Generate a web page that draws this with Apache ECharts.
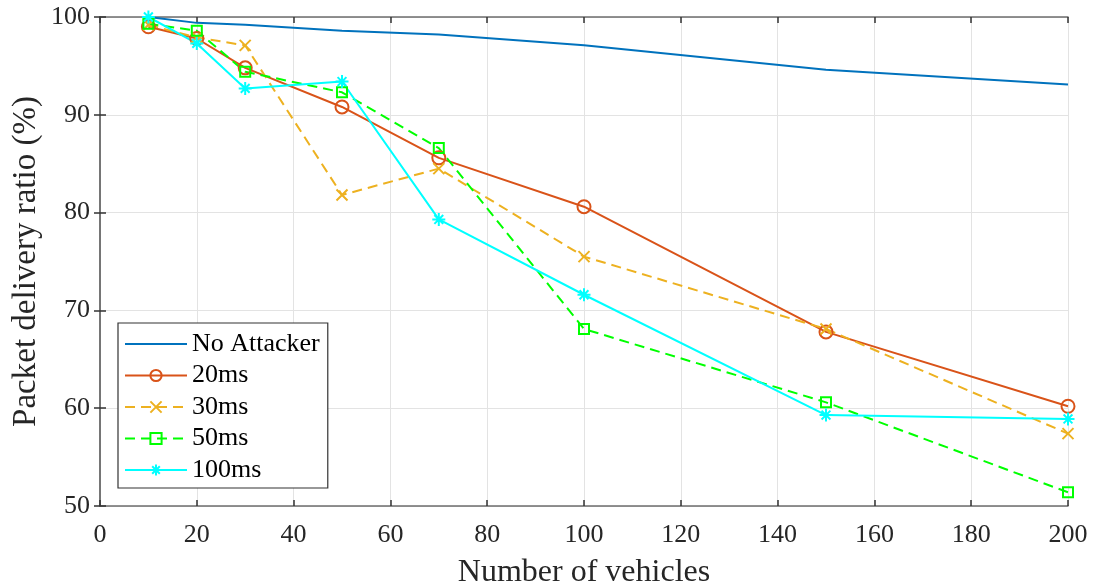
<!DOCTYPE html>
<html><head><meta charset="utf-8">
<script src="https://cdn.jsdelivr.net/npm/echarts@6/dist/echarts.min.js"></script>
<style>html,body{margin:0;padding:0;background:#fff}#c{width:1094px;height:588px}</style>
</head><body><div id="c"></div>
<script>
const vehicles = [10, 20, 30, 50, 70, 100, 150, 200];
const noAttacker = [100, 99.4, 99.2, 98.6, 98.2, 97.1, 94.6, 93.1];
const ms20 = [99.0, 97.8, 94.8, 90.8, 85.6, 80.6, 67.8, 60.2];
const ms30 = [99.2, 97.9, 97.1, 81.8, 84.5, 75.5, 68.1, 57.4];
const ms50 = [99.3, 98.6, 94.4, 92.3, 86.6, 68.1, 60.6, 51.4];
const ms100 = [100, 97.3, 92.7, 93.4, 79.3, 71.6, 59.3, 58.9];
const names = ['No Attacker', '20ms', '30ms', '50ms', '100ms'];

const font = 'Liberation Serif, Times New Roman, serif';
const pairs = arr => vehicles.map((v, i) => [v, arr[i]]);
const cross = 'path://M0,0L10,10M10,0L0,10';
const star = 'path://M5,0L5,10M0,5L10,5M1.6,1.6L8.4,8.4M8.4,1.6L1.6,8.4';

function mk(name, data, color, symbol, size, dashed) {
  return {
    name, type: 'line', data: pairs(data),
    symbol, symbolSize: size, showSymbol: symbol !== 'none',
    lineStyle: { color, width: 2, type: dashed ? [10, 6] : 'solid' },
    itemStyle: { color: 'rgba(0,0,0,0)', borderColor: color, borderWidth: 2 },
    emphasis: { disabled: true }, animation: false, z: 3
  };
}

const axisCommon = {
  axisLine: { show: true, lineStyle: { color: '#6e6e6e', width: 1.5 } },
  axisTick: { show: true, inside: true, length: 6, lineStyle: { color: '#333', width: 1.5 } },
};

const legendData = names.map(n => n === 'No Attacker'
  ? { name: n, itemStyle: { opacity: 0, borderWidth: 0 } }
  : { name: n });

const chart = echarts.init(document.getElementById('c'));
chart.setOption({
  animation: false,
  grid: { left: 100, right: 26, top: 17, bottom: 82, containLabel: false, outerBoundsMode: 'none' },
  legend: {
    data: legendData, orient: 'vertical', left: 118, top: 323,
    backgroundColor: '#fff', borderColor: '#333', borderWidth: 1.2,
    padding: [8, 8, 5, 6], itemWidth: 62, itemHeight: 14, itemGap: 5.5,
    textStyle: { fontFamily: font, fontSize: 26, lineHeight: 26, color: '#000' },
    selectedMode: false
  },
  xAxis: [
    Object.assign({ type: 'value', min: 0, max: 200, interval: 20,
      axisLabel: { fontFamily: font, fontSize: 26, color: '#262626', margin: 16 },
      splitLine: { show: true, lineStyle: { color: '#e3e3e3', width: 1 } },
      name: 'Number of vehicles', nameLocation: 'middle', nameGap: 51,
      nameTextStyle: { fontFamily: font, fontSize: 32, color: '#262626' } }, axisCommon),
    Object.assign({ type: 'value', min: 0, max: 200, interval: 20, position: 'top',
      axisLabel: { show: false }, splitLine: { show: false } }, axisCommon)
  ],
  yAxis: [
    Object.assign({ type: 'value', min: 50, max: 100, interval: 10,
      axisLabel: { fontFamily: font, fontSize: 26, color: '#262626', margin: 10 },
      splitLine: { show: true, lineStyle: { color: '#e3e3e3', width: 1 } },
      name: 'Packet delivery ratio (%)', nameLocation: 'middle', nameGap: 57, nameMoveOverlap: false,
      nameTextStyle: { fontFamily: font, fontSize: 33, color: '#262626' } }, axisCommon),
    Object.assign({ type: 'value', min: 50, max: 100, interval: 10, position: 'right',
      axisLabel: { show: false }, splitLine: { show: false } }, axisCommon)
  ],
  series: [
    mk('No Attacker', noAttacker, '#0072BD', 'none', 0, false),
    mk('20ms', ms20, '#D95319', 'circle', 13, false),
    mk('30ms', ms30, '#EDB120', cross, 11, true),
    mk('50ms', ms50, '#00FF00', 'rect', 10, true),
    mk('100ms', ms100, '#00FFFF', star, 13, false)
  ]
});
</script></body></html>
